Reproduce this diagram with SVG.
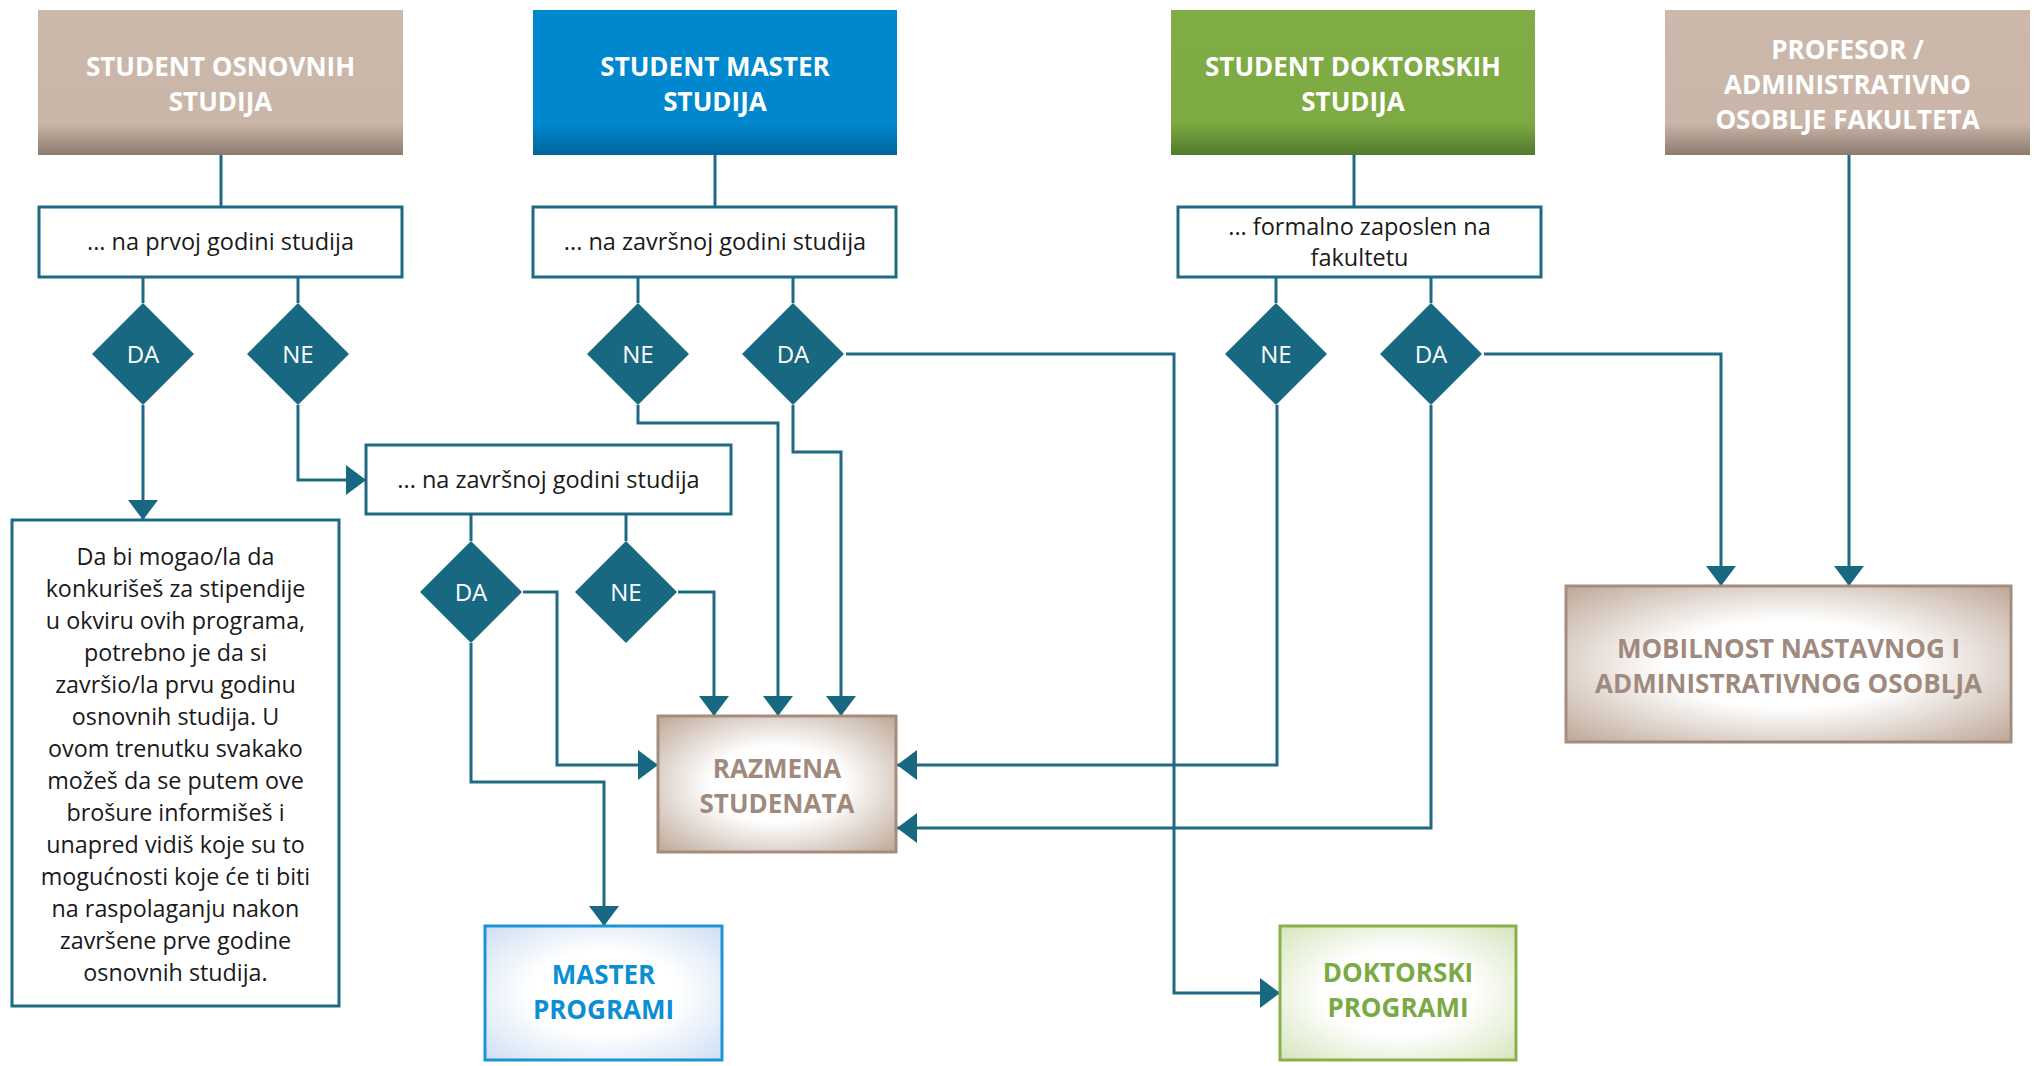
<svg xmlns="http://www.w3.org/2000/svg" width="2036" height="1066" viewBox="0 0 2036 1066">
<style>
.hdr{font-family:"Open Sans","Liberation Sans",sans-serif;font-weight:700;font-size:26px;fill:#ffffff;text-anchor:middle}
.sub{font-family:"Open Sans","Liberation Sans",sans-serif;font-size:23.5px;fill:#1a1a1a;text-anchor:middle}
.body{font-family:"Open Sans","Liberation Sans",sans-serif;font-size:23.3px;fill:#1a1a1a;text-anchor:middle}
.dtxt{font-family:"Open Sans","Liberation Sans",sans-serif;font-size:24px;fill:#ffffff;text-anchor:middle}
.res{font-family:"Open Sans","Liberation Sans",sans-serif;font-weight:700;font-size:26px;text-anchor:middle}
.box{fill:#ffffff;stroke:#1d6a82;stroke-width:3}
.dia{fill:#196882}
.conn{fill:none;stroke:#1d6a82;stroke-width:3}
.arr{marker-end:url(#ah)}
</style>
<defs>
<marker id="ah" markerUnits="userSpaceOnUse" markerWidth="22" markerHeight="32" refX="20" refY="15" orient="auto">
<path d="M0,0 L20,15 L0,30 Z" fill="#196882"/>
</marker>
<linearGradient id="gTaupe" x1="0" y1="0" x2="0" y2="1">
<stop offset="0" stop-color="#ccb9ab"/>
<stop offset="0.78" stop-color="#c9b6a8"/>
<stop offset="1" stop-color="#8d7b70"/>
</linearGradient>
<linearGradient id="gBlue" x1="0" y1="0" x2="0" y2="1">
<stop offset="0" stop-color="#0088cf"/>
<stop offset="0.78" stop-color="#0087cd"/>
<stop offset="1" stop-color="#00659c"/>
</linearGradient>
<linearGradient id="gGreen" x1="0" y1="0" x2="0" y2="1">
<stop offset="0" stop-color="#80ad45"/>
<stop offset="0.78" stop-color="#7daa43"/>
<stop offset="1" stop-color="#527a2e"/>
</linearGradient>
<radialGradient id="rTaupe" cx="0.5" cy="0.5" r="0.7">
<stop offset="0.4" stop-color="#ffffff"/>
<stop offset="1" stop-color="#bea898"/>
</radialGradient>
<radialGradient id="rBlue" cx="0.5" cy="0.5" r="0.7">
<stop offset="0.45" stop-color="#ffffff"/>
<stop offset="1" stop-color="#cfdff3"/>
</radialGradient>
<radialGradient id="rGreen" cx="0.5" cy="0.5" r="0.7">
<stop offset="0.45" stop-color="#ffffff"/>
<stop offset="1" stop-color="#d6e5bd"/>
</radialGradient>
</defs>

<g id="connectors">
<path class="conn" d="M221,155 V207"/>
<path class="conn" d="M715,155 V207"/>
<path class="conn" d="M1354,155 V207"/>
<path class="conn arr" d="M1849,155 V586"/>
<path class="conn" d="M143,277 V303"/>
<path class="conn" d="M298,277 V303"/>
<path class="conn" d="M638,277 V303"/>
<path class="conn" d="M793,277 V303"/>
<path class="conn" d="M1276,277 V303"/>
<path class="conn" d="M1431,277 V303"/>
<path class="conn arr" d="M143,405 V520"/>
<path class="conn arr" d="M298,405 V480 H366"/>
<path class="conn arr" d="M638,405 V423 H778 V716"/>
<path class="conn arr" d="M793,405 V452 H841 V716"/>
<path class="conn arr" d="M846,354 H1174 V993 H1280"/>
<path class="conn arr" d="M1277,405 V765 H897"/>
<path class="conn arr" d="M1431,405 V828 H897"/>
<path class="conn arr" d="M1484,354 H1721 V586"/>
<path class="conn" d="M471,514 V541"/>
<path class="conn" d="M626,514 V541"/>
<path class="conn arr" d="M523,592 H557 V765 H658"/>
<path class="conn arr" d="M471,643 V782 H604 V926"/>
<path class="conn arr" d="M678,592 H714 V716"/>
</g>

<g id="student-osnovnih">
<rect x="38" y="10" width="365" height="145" fill="url(#gTaupe)"/>
<text class="hdr" x="220.5" y="76">STUDENT OSNOVNIH</text>
<text class="hdr" x="220.5" y="111">STUDIJA</text>
</g>
<g id="student-master">
<rect x="533" y="10" width="364" height="145" fill="url(#gBlue)"/>
<text class="hdr" x="715" y="76">STUDENT MASTER</text>
<text class="hdr" x="715" y="111">STUDIJA</text>
</g>
<g id="student-doktorskih">
<rect x="1171" y="10" width="364" height="145" fill="url(#gGreen)"/>
<text class="hdr" x="1353" y="76">STUDENT DOKTORSKIH</text>
<text class="hdr" x="1353" y="111">STUDIJA</text>
</g>
<g id="profesor">
<rect x="1665" y="10" width="365" height="145" fill="url(#gTaupe)"/>
<text class="hdr" x="1847.5" y="59">PROFESOR /</text>
<text class="hdr" x="1847.5" y="94">ADMINISTRATIVNO</text>
<text class="hdr" x="1847.5" y="129">OSOBLJE FAKULTETA</text>
</g>

<g id="q-prva-godina">
<rect class="box" x="39" y="207" width="363" height="70"/>
<text class="sub" x="220.5" y="250">... na prvoj godini studija</text>
</g>
<g id="q-zavrsna-master">
<rect class="box" x="533" y="207" width="363" height="70"/>
<text class="sub" x="715" y="250">... na završnoj godini studija</text>
</g>
<g id="q-zaposlen">
<rect class="box" x="1178" y="207" width="363" height="70"/>
<text class="sub" x="1359.5" y="235">... formalno zaposlen na</text>
<text class="sub" x="1359.5" y="266">fakultetu</text>
</g>
<g id="q-zavrsna-osnovne">
<rect class="box" x="366" y="445" width="365" height="69"/>
<text class="sub" x="548.5" y="488">... na završnoj godini studija</text>
</g>

<g id="d-da1"><path class="dia" d="M143,303 L194,354 L143,405 L92,354 Z"/><text class="dtxt" x="143" y="363">DA</text></g>
<g id="d-ne1"><path class="dia" d="M298,303 L349,354 L298,405 L247,354 Z"/><text class="dtxt" x="298" y="363">NE</text></g>
<g id="d-ne2"><path class="dia" d="M638,303 L689,354 L638,405 L587,354 Z"/><text class="dtxt" x="638" y="363">NE</text></g>
<g id="d-da2"><path class="dia" d="M793,303 L844,354 L793,405 L742,354 Z"/><text class="dtxt" x="793" y="363">DA</text></g>
<g id="d-ne3"><path class="dia" d="M1276,303 L1327,354 L1276,405 L1225,354 Z"/><text class="dtxt" x="1276" y="363">NE</text></g>
<g id="d-da3"><path class="dia" d="M1431,303 L1482,354 L1431,405 L1380,354 Z"/><text class="dtxt" x="1431" y="363">DA</text></g>
<g id="d-da4"><path class="dia" d="M471,541 L522,592 L471,643 L420,592 Z"/><text class="dtxt" x="471" y="601">DA</text></g>
<g id="d-ne4"><path class="dia" d="M626,541 L677,592 L626,643 L575,592 Z"/><text class="dtxt" x="626" y="601">NE</text></g>

<g id="info-box">
<rect class="box" x="12" y="520" width="327" height="486"/>
<text class="body" x="175.5" y="565">Da bi mogao/la da</text>
<text class="body" x="175.5" y="597">konkurišeš za stipendije</text>
<text class="body" x="175.5" y="629">u okviru ovih programa,</text>
<text class="body" x="175.5" y="661">potrebno je da si</text>
<text class="body" x="175.5" y="693">završio/la prvu godinu</text>
<text class="body" x="175.5" y="725">osnovnih studija. U</text>
<text class="body" x="175.5" y="757">ovom trenutku svakako</text>
<text class="body" x="175.5" y="789">možeš da se putem ove</text>
<text class="body" x="175.5" y="821">brošure informišeš i</text>
<text class="body" x="175.5" y="853">unapred vidiš koje su to</text>
<text class="body" x="175.5" y="885">mogućnosti koje će ti biti</text>
<text class="body" x="175.5" y="917">na raspolaganju nakon</text>
<text class="body" x="175.5" y="949">završene prve godine</text>
<text class="body" x="175.5" y="981">osnovnih studija.</text>
</g>

<g id="razmena">
<rect x="658" y="716" width="238" height="136" fill="url(#rTaupe)" stroke="#a48d7f" stroke-width="3"/>
<text class="res" x="777" y="778" fill="#a08a7e">RAZMENA</text>
<text class="res" x="777" y="813" fill="#a08a7e">STUDENATA</text>
</g>
<g id="mobilnost">
<rect x="1566" y="586" width="445" height="156" fill="url(#rTaupe)" stroke="#a48d7f" stroke-width="3"/>
<text class="res" x="1788.5" y="658" fill="#a08a7e">MOBILNOST NASTAVNOG I</text>
<text class="res" x="1788.5" y="693" fill="#a08a7e">ADMINISTRATIVNOG OSOBLJA</text>
</g>
<g id="master-programi">
<rect x="485" y="926" width="237" height="134" fill="url(#rBlue)" stroke="#1b95d5" stroke-width="3"/>
<text class="res" x="603.5" y="984" fill="#0b8fd4">MASTER</text>
<text class="res" x="603.5" y="1019" fill="#0b8fd4">PROGRAMI</text>
</g>
<g id="doktorski-programi">
<rect x="1280" y="926" width="236" height="134" fill="url(#rGreen)" stroke="#88b04b" stroke-width="3"/>
<text class="res" x="1398" y="982" fill="#7ba944">DOKTORSKI</text>
<text class="res" x="1398" y="1017" fill="#7ba944">PROGRAMI</text>
</g>
</svg>
